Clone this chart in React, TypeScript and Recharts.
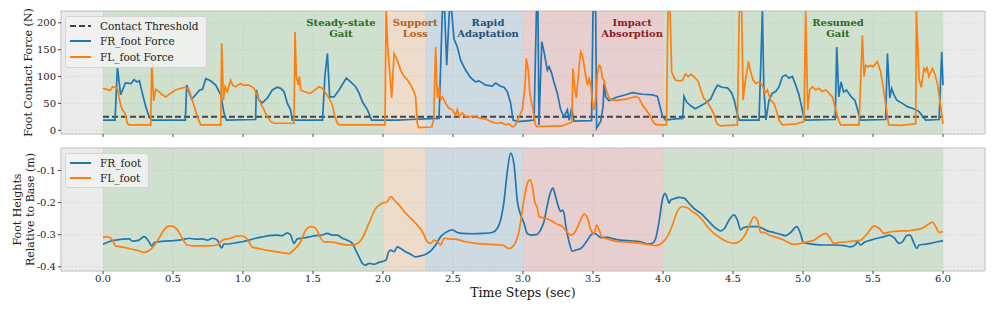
import { LineChart, Line, XAxis, YAxis, CartesianGrid, ReferenceArea, Legend } from 'recharts';

const SERIF = "'DejaVu Serif', 'Liberation Serif', serif";
const BLUE = '#1f77b4';
const ORANGE = '#ff7f0e';
const INK = '#222222';

// shared time axis
const timeTicks = [0, 0.5, 1, 1.5, 2, 2.5, 3, 3.5, 4, 4.5, 5, 5.5, 6];
const timeDomain: [number, number] = [-0.3, 6.3];

// gait phases
const phaseTitles = [
  ['Steady-state', 'Gait'],
  ['Support', 'Loss'],
  ['Rapid', 'Adaptation'],
  ['Impact', 'Absorption'],
  ['Resumed', 'Gait'],
];
const phaseStart = [0, 2.0, 2.3, 3.0, 4.0];
const phaseEnd = [2.0, 2.3, 3.0, 4.0, 6.0];
const phaseLabelAt = [1.7, 2.23, 2.75, 3.78, 5.25];
const phaseFill = ['#2ca02c', '#ff7f0e', '#1f77b4', '#d62728', '#2ca02c'];
const phaseInk = ['#2a6b1f', '#b5601c', '#1f4f7a', '#8e1b22', '#2a6b1f'];

// top panel: contact force (N); spikes that leave the plot are read as the top edge (222)
const forceDomain: [number, number] = [-7, 222];
const forceTicks = [0, 50, 100, 150, 200];
const contactThreshold: [number, number][] = [[0, 25], [6, 25]];

const frForce: [number, number][] = [
  [0, 19], [0.086, 19], [0.103, 118], [0.126, 66], [0.16, 88], [0.2, 87], [0.222, 94], [0.245, 90], [0.26, 92],
  [0.281, 69], [0.305, 44], [0.329, 25], [0.348, 19], [0.45, 19], [0.588, 19], [0.598, 84], [0.633, 58], [0.662, 66],
  [0.69, 75], [0.71, 76], [0.734, 96], [0.769, 92], [0.805, 84], [0.841, 66], [0.864, 32], [0.881, 19], [1.09, 20],
  [1.095, 75], [1.114, 56], [1.138, 51], [1.174, 60], [1.21, 75], [1.245, 80], [1.269, 78], [1.293, 72], [1.317, 50],
  [1.34, 38], [1.352, 19], [1.568, 19], [1.585, 100], [1.603, 143], [1.619, 62], [1.65, 62], [1.686, 75], [1.738, 97],
  [1.769, 90], [1.805, 81], [1.829, 69], [1.853, 53], [1.889, 38], [1.919, 19], [2.1, 19], [2.2, 20], [2.3, 21],
  [2.4, 22], [2.424, 222], [2.44, 222], [2.455, 121], [2.474, 222], [2.49, 222], [2.507, 170], [2.531, 155],
  [2.555, 130], [2.59, 112], [2.626, 98], [2.66, 90], [2.686, 92], [2.734, 84], [2.78, 82], [2.805, 88], [2.84, 82],
  [2.864, 80], [2.888, 72], [2.912, 50], [2.929, 19], [2.96, 16], [3.043, 18], [3.079, 19], [3.096, 222], [3.107, 222],
  [3.114, 10], [3.134, 165], [3.15, 146], [3.174, 112], [3.186, 118], [3.205, 106], [3.221, 90], [3.245, 69],
  [3.269, 38], [3.293, 25], [3.317, 38], [3.329, 19], [3.348, 41], [3.364, 17], [3.49, 18], [3.5, 222], [3.519, 222],
  [3.526, 4], [3.555, 17], [3.572, 44], [3.579, 87], [3.591, 62], [3.614, 55], [3.662, 61], [3.734, 66], [3.781, 70],
  [3.853, 67], [3.924, 66], [3.96, 63], [3.976, 47], [3.995, 27], [4.019, 19], [4.09, 21], [4.14, 22], [4.15, 63],
  [4.17, 52], [4.2, 45], [4.23, 40], [4.26, 44], [4.3, 50], [4.34, 58], [4.37, 75], [4.39, 84], [4.42, 80], [4.46, 79],
  [4.49, 70], [4.51, 55], [4.53, 31], [4.545, 19], [4.686, 19], [4.71, 222], [4.72, 81], [4.735, 19], [4.757, 56],
  [4.781, 69], [4.805, 72], [4.829, 81], [4.853, 100], [4.876, 103], [4.9, 97], [4.924, 100], [4.948, 84], [4.971, 66],
  [4.99, 44], [5.007, 22], [5.02, 19], [5.23, 20], [5.241, 155], [5.256, 62], [5.272, 90], [5.29, 71], [5.31, 75],
  [5.345, 62], [5.37, 56], [5.39, 38], [5.41, 19], [5.59, 20], [5.603, 143], [5.62, 60], [5.633, 78], [5.65, 66],
  [5.67, 56], [5.71, 50], [5.745, 44], [5.78, 41], [5.805, 38], [5.828, 35], [5.857, 25], [5.876, 19], [5.972, 20],
  [5.991, 146], [6.0, 84],
];

const flForce: [number, number][] = [
  [0, 78], [0.025, 76], [0.05, 74], [0.069, 81], [0.097, 79], [0.105, 76], [0.114, 62], [0.126, 47], [0.138, 38],
  [0.157, 32], [0.174, 13], [0.186, 10], [0.341, 10], [0.348, 126], [0.362, 55], [0.376, 76], [0.4, 72], [0.424, 66],
  [0.448, 62], [0.484, 69], [0.519, 75], [0.555, 78], [0.591, 80], [0.614, 75], [0.638, 56], [0.655, 42], [0.674, 25],
  [0.698, 10], [0.841, 10], [0.848, 162], [0.86, 56], [0.872, 81], [0.888, 72], [0.912, 93], [0.926, 84], [0.945, 81],
  [0.984, 87], [1.0, 84], [1.043, 84], [1.079, 78], [1.1, 66], [1.126, 50], [1.15, 38], [1.174, 25], [1.2, 16],
  [1.221, 13], [1.364, 13], [1.372, 183], [1.381, 100], [1.395, 84], [1.403, 100], [1.412, 75], [1.436, 72],
  [1.471, 69], [1.483, 69], [1.519, 76], [1.543, 81], [1.567, 78], [1.586, 71], [1.603, 64], [1.619, 58], [1.638, 47],
  [1.657, 25], [1.674, 13], [1.69, 10], [2.014, 10], [2.022, 222], [2.035, 150], [2.062, 60], [2.079, 143], [2.1, 132],
  [2.126, 112], [2.15, 100], [2.174, 94], [2.198, 84], [2.221, 72], [2.233, 62], [2.245, 13], [2.255, 5], [2.348, 6],
  [2.362, 20], [2.376, 155], [2.388, 60], [2.4, 81], [2.412, 57], [2.424, 62], [2.448, 50], [2.471, 41], [2.495, 38],
  [2.519, 28], [2.531, 38], [2.545, 25], [2.567, 32], [2.591, 25], [2.64, 26], [2.686, 23], [2.734, 21], [2.781, 15],
  [2.817, 13], [2.85, 14], [2.876, 10], [2.9, 12], [2.924, 6], [2.948, 10], [2.96, 19], [2.995, 38], [3.014, 81],
  [3.024, 134], [3.038, 112], [3.048, 71], [3.062, 50], [3.072, 38], [3.086, 13], [3.096, 7], [3.281, 8], [3.317, 12],
  [3.348, 15], [3.357, 115], [3.371, 75], [3.381, 60], [3.4, 115], [3.412, 146], [3.424, 140], [3.436, 121],
  [3.448, 100], [3.46, 84], [3.472, 96], [3.484, 84], [3.496, 53], [3.507, 38], [3.519, 56], [3.531, 103], [3.543, 121],
  [3.555, 118], [3.567, 97], [3.578, 93], [3.586, 84], [3.595, 75], [3.614, 60], [3.638, 56], [3.686, 56], [3.734, 58],
  [3.781, 61], [3.805, 63], [3.829, 60], [3.853, 47], [3.888, 35], [3.912, 25], [3.936, 13], [3.96, 10], [4.025, 10],
  [4.035, 222], [4.05, 222], [4.062, 109], [4.075, 100], [4.09, 93], [4.12, 92], [4.14, 93], [4.16, 105], [4.18, 100],
  [4.2, 104], [4.22, 100], [4.25, 92], [4.27, 75], [4.29, 60], [4.31, 55], [4.33, 47], [4.36, 32], [4.385, 12],
  [4.41, 8], [4.531, 10], [4.545, 222], [4.562, 222], [4.572, 56], [4.586, 87], [4.61, 128], [4.626, 109], [4.643, 94],
  [4.662, 87], [4.686, 90], [4.71, 84], [4.729, 69], [4.745, 75], [4.769, 56], [4.793, 50], [4.805, 41], [4.829, 19],
  [4.853, 10], [4.95, 12], [5.007, 16], [5.019, 222], [5.034, 38], [5.048, 75], [5.067, 81], [5.09, 75], [5.112, 78],
  [5.138, 72], [5.162, 75], [5.186, 69], [5.21, 62], [5.234, 38], [5.253, 19], [5.269, 10], [5.4, 10], [5.424, 177],
  [5.436, 100], [5.448, 121], [5.465, 118], [5.48, 121], [5.5, 118], [5.531, 128], [5.555, 109], [5.579, 69],
  [5.59, 50], [5.612, 10], [5.7, 9], [5.805, 12], [5.81, 222], [5.83, 94], [5.845, 80], [5.864, 115], [5.876, 110],
  [5.886, 118], [5.898, 100], [5.924, 115], [5.94, 106], [5.96, 87], [5.983, 44], [6.0, 12],
];

// bottom panel: foot height relative to base (m)
const heightDomain: [number, number] = [-0.413, -0.03];
const heightTicks = [-0.4, -0.3, -0.2, -0.1];

const frHeight: [number, number][] = [
  [0, -0.33], [0.043, -0.322], [0.09, -0.317], [0.138, -0.314], [0.186, -0.313], [0.21, -0.32], [0.257, -0.317],
  [0.293, -0.306], [0.329, -0.322], [0.348, -0.335], [0.364, -0.325], [0.4, -0.322], [0.448, -0.32], [0.495, -0.319],
  [0.543, -0.317], [0.579, -0.314], [0.614, -0.311], [0.662, -0.314], [0.71, -0.313], [0.745, -0.317], [0.781, -0.311],
  [0.817, -0.317], [0.833, -0.332], [0.848, -0.341], [0.864, -0.329], [0.9, -0.329], [0.948, -0.325], [0.995, -0.322],
  [1.043, -0.317], [1.09, -0.311], [1.138, -0.307], [1.186, -0.303], [1.233, -0.301], [1.281, -0.303], [1.317, -0.294],
  [1.34, -0.301], [1.364, -0.327], [1.388, -0.313], [1.424, -0.311], [1.471, -0.307], [1.519, -0.303], [1.567, -0.301],
  [1.602, -0.296], [1.638, -0.301], [1.674, -0.301], [1.71, -0.311], [1.745, -0.317], [1.781, -0.327], [1.805, -0.348],
  [1.829, -0.369], [1.852, -0.389], [1.876, -0.395], [1.9, -0.389], [1.936, -0.392], [1.971, -0.386], [2.007, -0.382],
  [2.024, -0.377], [2.038, -0.355], [2.055, -0.348], [2.079, -0.353], [2.102, -0.338], [2.126, -0.343], [2.162, -0.353],
  [2.198, -0.361], [2.233, -0.369], [2.269, -0.366], [2.305, -0.361], [2.34, -0.351], [2.376, -0.332], [2.412, -0.306],
  [2.448, -0.293], [2.495, -0.285], [2.531, -0.293], [2.567, -0.296], [2.638, -0.297], [2.71, -0.296], [2.781, -0.293],
  [2.817, -0.28], [2.84, -0.254], [2.864, -0.197], [2.888, -0.103], [2.912, -0.046], [2.936, -0.082], [2.96, -0.197],
  [2.983, -0.238], [3.007, -0.264], [3.03, -0.296], [3.055, -0.301], [3.1, -0.299], [3.126, -0.285], [3.15, -0.259],
  [3.174, -0.207], [3.198, -0.166], [3.214, -0.155], [3.233, -0.181], [3.257, -0.218], [3.269, -0.228], [3.282, -0.223],
  [3.293, -0.233], [3.305, -0.27], [3.329, -0.322], [3.352, -0.351], [3.376, -0.348], [3.412, -0.343], [3.436, -0.332],
  [3.46, -0.317], [3.484, -0.301], [3.507, -0.296], [3.531, -0.301], [3.555, -0.309], [3.602, -0.308], [3.65, -0.313],
  [3.698, -0.317], [3.769, -0.319], [3.84, -0.322], [3.888, -0.329], [3.924, -0.327], [3.948, -0.311], [3.972, -0.259],
  [3.995, -0.192], [4.014, -0.171], [4.03, -0.186], [4.043, -0.202], [4.055, -0.192], [4.079, -0.188], [4.114, -0.184],
  [4.15, -0.186], [4.186, -0.202], [4.221, -0.218], [4.269, -0.233], [4.317, -0.254], [4.364, -0.275], [4.412, -0.288],
  [4.44, -0.28], [4.472, -0.254], [4.507, -0.238], [4.531, -0.254], [4.555, -0.285], [4.574, -0.278], [4.626, -0.275],
  [4.674, -0.275], [4.71, -0.28], [4.745, -0.288], [4.793, -0.293], [4.84, -0.299], [4.876, -0.303], [4.912, -0.293],
  [4.955, -0.275], [4.979, -0.293], [5.003, -0.324], [5.031, -0.327], [5.079, -0.33], [5.15, -0.332], [5.221, -0.332],
  [5.293, -0.334], [5.34, -0.338], [5.376, -0.33], [5.388, -0.322], [5.412, -0.332], [5.436, -0.324], [5.484, -0.317],
  [5.531, -0.311], [5.579, -0.306], [5.614, -0.301], [5.65, -0.309], [5.686, -0.327], [5.71, -0.322], [5.745, -0.301],
  [5.764, -0.301], [5.793, -0.327], [5.812, -0.343], [5.829, -0.332], [5.864, -0.33], [5.912, -0.327], [5.96, -0.322],
  [6.0, -0.319],
];

const flHeight: [number, number][] = [
  [0, -0.309], [0.03, -0.306], [0.066, -0.316], [0.09, -0.335], [0.12, -0.337], [0.174, -0.342], [0.245, -0.349],
  [0.293, -0.355], [0.33, -0.349], [0.364, -0.335], [0.4, -0.311], [0.436, -0.285], [0.471, -0.273], [0.495, -0.273],
  [0.531, -0.285], [0.567, -0.311], [0.602, -0.332], [0.65, -0.335], [0.745, -0.335], [0.817, -0.332], [0.853, -0.317],
  [0.912, -0.311], [0.96, -0.304], [0.995, -0.304], [1.031, -0.314], [1.067, -0.339], [1.102, -0.342], [1.174, -0.349],
  [1.269, -0.355], [1.328, -0.359], [1.364, -0.347], [1.412, -0.322], [1.448, -0.285], [1.483, -0.275], [1.519, -0.28],
  [1.555, -0.311], [1.578, -0.322], [1.614, -0.322], [1.65, -0.324], [1.71, -0.33], [1.757, -0.332], [1.805, -0.33],
  [1.852, -0.311], [1.9, -0.264], [1.948, -0.218], [1.995, -0.202], [2.031, -0.197], [2.055, -0.181], [2.079, -0.192],
  [2.114, -0.207], [2.162, -0.233], [2.21, -0.254], [2.245, -0.27], [2.281, -0.29], [2.317, -0.322], [2.34, -0.327],
  [2.364, -0.317], [2.388, -0.322], [2.412, -0.332], [2.436, -0.311], [2.471, -0.313], [2.519, -0.314], [2.59, -0.322],
  [2.662, -0.327], [2.757, -0.33], [2.852, -0.332], [2.9, -0.343], [2.936, -0.332], [2.971, -0.29], [3.007, -0.19],
  [3.031, -0.14], [3.05, -0.129], [3.067, -0.15], [3.084, -0.197], [3.103, -0.218], [3.115, -0.244], [3.14, -0.247],
  [3.176, -0.251], [3.212, -0.259], [3.248, -0.268], [3.283, -0.275], [3.317, -0.293], [3.34, -0.301], [3.364, -0.296],
  [3.388, -0.278], [3.412, -0.254], [3.436, -0.236], [3.46, -0.247], [3.484, -0.285], [3.507, -0.296], [3.526, -0.27],
  [3.543, -0.285], [3.567, -0.309], [3.602, -0.313], [3.65, -0.319], [3.698, -0.322], [3.769, -0.324], [3.84, -0.327],
  [3.912, -0.332], [3.948, -0.334], [3.984, -0.329], [4.031, -0.306], [4.067, -0.27], [4.102, -0.228], [4.138, -0.213],
  [4.174, -0.216], [4.21, -0.228], [4.245, -0.238], [4.281, -0.254], [4.317, -0.275], [4.364, -0.296], [4.412, -0.311],
  [4.46, -0.322], [4.507, -0.327], [4.543, -0.322], [4.579, -0.306], [4.614, -0.275], [4.65, -0.244], [4.674, -0.254],
  [4.698, -0.293], [4.721, -0.293], [4.757, -0.301], [4.817, -0.309], [4.864, -0.317], [4.936, -0.33], [4.984, -0.327],
  [5.031, -0.322], [5.079, -0.317], [5.126, -0.303], [5.162, -0.296], [5.186, -0.306], [5.221, -0.327], [5.257, -0.324],
  [5.317, -0.322], [5.364, -0.32], [5.412, -0.317], [5.46, -0.296], [5.507, -0.273], [5.543, -0.28], [5.579, -0.296],
  [5.602, -0.293], [5.65, -0.29], [5.698, -0.288], [5.745, -0.288], [5.793, -0.285], [5.84, -0.282], [5.888, -0.27],
  [5.924, -0.261], [5.948, -0.275], [5.972, -0.293], [6.0, -0.29],
];

const toRows = (pts: [number, number][]) => pts.map(([t, v]) => ({ t, v }));

const tickStyle = { fontSize: 10, fill: INK, fontFamily: SERIF };

// two-line bold phase caption, placed inside each shaded span
const phaseCaption = (i: number) => (props: any) => {
  const vb = props.viewBox;
  if (!vb) return null;
  const x = vb.x + ((phaseLabelAt[i] - phaseStart[i]) / (phaseEnd[i] - phaseStart[i])) * vb.width;
  return (
    <text textAnchor="middle" fontFamily={SERIF} fontSize={10} fontWeight="bold" fill={phaseInk[i]}>
      <tspan x={x} y={vb.y + 14.5}>{phaseTitles[i][0]}</tspan>
      <tspan x={x} y={vb.y + 25.5}>{phaseTitles[i][1]}</tspan>
    </text>
  );
};

const axisTitle = (lines: string[], xs: number[]) => (props: any) => {
  const vb = props.viewBox;
  if (!vb) return null;
  const cy = vb.y + vb.height / 2;
  return (
    <g>
      {lines.map((s, i) => (
        <text key={s} x={xs[i]} y={cy} transform={`rotate(-90 ${xs[i]} ${cy})`} textAnchor="middle"
          dominantBaseline="central" fontFamily={SERIF} fontSize={11} fill={INK}>
          {s}
        </text>
      ))}
    </g>
  );
};

interface LegendItem { label: string; color: string; dash?: string }

function LegendBox({ items, rowH }: { items: LegendItem[]; rowH: number }) {
  return (
    <div style={{
      background: 'rgba(242,242,242,0.85)', border: '1px solid #d4d4d4', borderRadius: 3,
      padding: '1px 7px 2px 4px', fontFamily: SERIF, fontSize: 10.5, color: INK, whiteSpace: 'nowrap',
    }}>
      {items.map(it => (
        <div key={it.label} style={{ display: 'flex', alignItems: 'center', height: rowH }}>
          <svg width={21} height={6} style={{ display: 'block' }}>
            <line x1={0} y1={3} x2={21} y2={3} stroke={it.color} strokeWidth={2} strokeDasharray={it.dash} />
          </svg>
          <span style={{ marginLeft: 9 }}>{it.label}</span>
        </div>
      ))}
    </div>
  );
}

function PhaseSpans({ lo, hi, captions }: { lo: number; hi: number; captions: boolean }) {
  return (
    <>
      {phaseStart.map((s, i) => (
        <ReferenceArea key={`ph${i}`} x1={s} x2={phaseEnd[i]} y1={lo} y2={hi} fill={phaseFill[i]} fillOpacity={0.14}
          stroke="none" label={captions ? phaseCaption(i) : undefined} />
      ))}
    </>
  );
}

export default function App() {
  const topLegend: LegendItem[] = [
    { label: 'Contact Threshold', color: '#444444', dash: '6 3' },
    { label: 'FR_foot Force', color: BLUE },
    { label: 'FL_foot Force', color: ORANGE },
  ];
  const bottomLegend: LegendItem[] = [
    { label: 'FR_foot', color: BLUE },
    { label: 'FL_foot', color: ORANGE },
  ];

  return (
    <div style={{ position: 'absolute', left: 0, top: 0, width: 996, height: 312, background: '#fff' }}>
      <div style={{ position: 'absolute', left: 0, top: 0 }}>
        <LineChart width={996} height={140} margin={{ top: 11, right: 11, left: 0, bottom: 0 }}>
          <CartesianGrid fill="#ebebeb" stroke="#d2d2d2" strokeOpacity={0.8} strokeDasharray="1.5 2" />
          {PhaseSpans({ lo: forceDomain[0], hi: forceDomain[1], captions: true })}
          <XAxis dataKey="t" type="number" domain={timeDomain} ticks={timeTicks} allowDataOverflow
            tickFormatter={() => ''} height={6} tickSize={3} axisLine={false} tickLine={{ stroke: '#444' }} />
          <YAxis type="number" domain={forceDomain} ticks={forceTicks} allowDataOverflow width={61}
            tick={tickStyle} tickSize={3} tickMargin={2} axisLine={false} tickLine={{ stroke: '#444' }}
            label={axisTitle(['Foot Contact Force (N)'], [28.5])} />
          <Line data={toRows(contactThreshold)} dataKey="v" stroke="#444444" strokeWidth={2} strokeDasharray="6 3"
            dot={false} isAnimationActive={false} />
          <Line data={toRows(frForce)} dataKey="v" type="linear" stroke={BLUE} strokeWidth={1.7} dot={false}
            isAnimationActive={false} />
          <Line data={toRows(flForce)} dataKey="v" type="linear" stroke={ORANGE} strokeWidth={1.7} dot={false}
            isAnimationActive={false} />
          <ReferenceArea x1={timeDomain[0]} x2={timeDomain[1]} y1={forceDomain[0]} y2={forceDomain[1]}
            fill="none" stroke="#c4c4c4" strokeWidth={1} />
          <Legend layout="vertical" align="center" verticalAlign="middle"
            wrapperStyle={{ left: 65, top: 16, width: 'auto', height: 'auto' }}
            content={() => <LegendBox items={topLegend} rowH={15.5} />} />
        </LineChart>
      </div>
      <div style={{ position: 'absolute', left: 0, top: 140 }}>
        <LineChart width={996} height={172} margin={{ top: 8, right: 11, left: 0, bottom: 0 }}>
          <CartesianGrid fill="#ebebeb" stroke="#d2d2d2" strokeOpacity={0.8} strokeDasharray="1.5 2" />
          {PhaseSpans({ lo: heightDomain[0], hi: heightDomain[1], captions: false })}
          <XAxis dataKey="t" type="number" domain={timeDomain} ticks={timeTicks} allowDataOverflow
            tickFormatter={(v: number) => v.toFixed(1)} height={41} tick={tickStyle} tickSize={3} tickMargin={1}
            axisLine={false} tickLine={{ stroke: '#444' }}
            label={{ value: 'Time Steps (sec)', position: 'insideBottom', offset: 15, fill: '#111', fontSize: 12.5, fontFamily: SERIF }} />
          <YAxis type="number" domain={heightDomain} ticks={heightTicks} allowDataOverflow width={61}
            tickFormatter={(v: number) => v.toFixed(1)} tick={tickStyle} tickSize={3} tickMargin={2}
            axisLine={false} tickLine={{ stroke: '#444' }}
            label={axisTitle(['Foot Heights', 'Relative to Base (m)'], [17, 30])} />
          <Line data={toRows(frHeight)} dataKey="v" type="monotone" stroke={BLUE} strokeWidth={1.7} dot={false}
            isAnimationActive={false} />
          <Line data={toRows(flHeight)} dataKey="v" type="monotone" stroke={ORANGE} strokeWidth={1.7} dot={false}
            isAnimationActive={false} />
          <ReferenceArea x1={timeDomain[0]} x2={timeDomain[1]} y1={heightDomain[0]} y2={heightDomain[1]}
            fill="none" stroke="#c4c4c4" strokeWidth={1} />
          <Legend layout="vertical" align="center" verticalAlign="middle"
            wrapperStyle={{ left: 65, top: 13, width: 'auto', height: 'auto' }}
            content={() => <LegendBox items={bottomLegend} rowH={15} />} />
        </LineChart>
      </div>
    </div>
  );
}
